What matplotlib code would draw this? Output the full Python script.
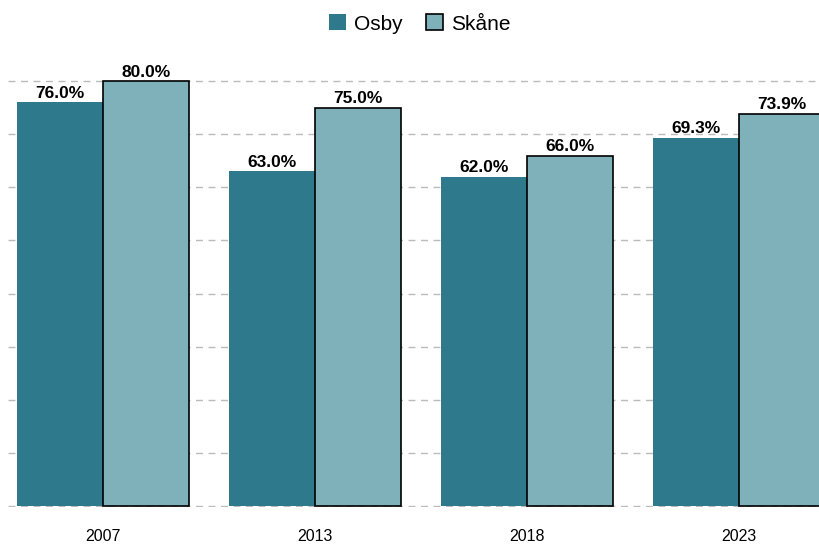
import numpy as np
import matplotlib.pyplot as plt

plt.rcParams['font.family'] = ['Liberation Sans', 'DejaVu Sans']

# Data
years = ['2007', '2013', '2018', '2023']
osby = [76.0, 63.0, 62.0, 69.3]
skane = [80.0, 75.0, 66.0, 73.9]

c_osby = '#2e7a8c'
c_skane = '#7fb1bb'

fig = plt.figure(figsize=(8.2, 5.44), dpi=100)
# axes: left 8px, right 820px, bottom 506px, top 60px
ax = fig.add_axes([8 / 820, 1 - 507 / 544, 812 / 820, (507 - 60) / 544])

x = np.arange(len(years))
w = 0.405
b1 = ax.bar(x - w / 2, osby, w, color=c_osby, label='Osby', zorder=3)
b2 = ax.bar(x + w / 2, skane, w, color=c_skane, edgecolor='black', linewidth=1.2,
            label='Skåne', zorder=3)

for bars, vals in ((b1, osby), (b2, skane)):
    for r, v in zip(bars, vals):
        ax.text(r.get_x() + r.get_width() / 2, v + 0.3, f'{v:.1f}%',
                ha='center', va='bottom', fontsize=12.5, fontweight='bold', zorder=4)

ax.set_xlim(-0.448, 3.382)
ax.set_ylim(-0.2, 84)
ax.set_yticks(np.arange(0, 81, 10))
ax.yaxis.grid(True, linestyle=(0, (5, 4)), color='#bbbbbb', linewidth=1, zorder=0)
ax.tick_params(axis='y', left=False, labelleft=False)
ax.tick_params(axis='x', bottom=False, labelsize=11.5, pad=12)
ax.set_xticks(x)
ax.set_xticklabels(years)
for s in ax.spines.values():
    s.set_visible(False)

fig.legend(handles=[b1, b2], labels=['Osby', 'Skåne'], loc='center',
           bbox_to_anchor=(0.512, 1 - 24 / 544), ncol=2, frameon=False,
           fontsize=15, handlelength=0.8, handleheight=0.8, handletextpad=0.4,
           columnspacing=1.1)

fig.savefig('out.png', dpi=100)
